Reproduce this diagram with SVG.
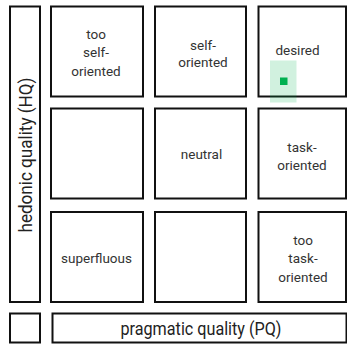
<svg xmlns="http://www.w3.org/2000/svg" width="347" height="344" viewBox="0 0 347 344">
<style>
.box{fill:#fff;stroke:#111;stroke-width:2}
.t{font-family:Roboto,"Liberation Sans",sans-serif;font-size:13.5px;fill:#333;text-anchor:middle}
.ax{font-family:Roboto,"Liberation Sans",sans-serif;font-size:18px;fill:#222;text-anchor:middle}
</style>
<rect width="347" height="344" fill="#fff"/>
<g id="hq-axis">
<rect class="box" x="10" y="6.5" width="30" height="295.5"/>
<text class="ax" transform="translate(31.5,155) rotate(-90)" textLength="155" lengthAdjust="spacingAndGlyphs">hedonic quality (HQ)</text>
</g>
<g id="corner"><rect class="box" x="10" y="313.5" width="30" height="29"/></g>
<g id="pq-axis">
<rect class="box" x="52.5" y="313.5" width="294" height="29"/>
<text class="ax" x="201" y="335" textLength="161" lengthAdjust="spacingAndGlyphs">pragmatic quality (PQ)</text>
</g>
<g id="too-self-oriented">
<rect class="box" x="51" y="6.5" width="92" height="90"/>
<text class="t" x="96" y="39">too</text>
<text class="t" x="96" y="57.3">self-</text>
<text class="t" x="96" y="76">oriented</text>
</g>
<g id="self-oriented">
<rect class="box" x="155" y="6.5" width="91" height="90"/>
<text class="t" x="203" y="49.5">self-</text>
<text class="t" x="203" y="67">oriented</text>
</g>
<g id="desired">
<rect class="box" x="258.5" y="6.5" width="87.5" height="90"/>
<text class="t" x="297.5" y="55">desired</text>
<rect x="270" y="60.5" width="26.5" height="42" fill="#00b050" opacity="0.18"/>
<rect x="280" y="77.5" width="7.5" height="7.5" fill="#00b050"/>
</g>
<g id="empty-mid">
<rect class="box" x="51" y="108.5" width="92" height="90"/>
</g>
<g id="neutral">
<rect class="box" x="155" y="108.5" width="91" height="90"/>
<text class="t" x="201.5" y="159">neutral</text>
</g>
<g id="task-oriented">
<rect class="box" x="258.5" y="108.5" width="87.5" height="90"/>
<text class="t" x="302" y="151.5">task-</text>
<text class="t" x="302" y="169.5">oriented</text>
</g>
<g id="superfluous">
<rect class="box" x="51" y="212" width="92" height="90"/>
<text class="t" x="96.5" y="263">superfluous</text>
</g>
<g id="empty-bottom">
<rect class="box" x="155" y="212" width="91" height="90"/>
</g>
<g id="too-task-oriented">
<rect class="box" x="258.5" y="212" width="87.5" height="90"/>
<text class="t" x="303" y="245">too</text>
<text class="t" x="303" y="263.3">task-</text>
<text class="t" x="303" y="281.5">oriented</text>
</g>
<g id="connectors"></g>
</svg>
